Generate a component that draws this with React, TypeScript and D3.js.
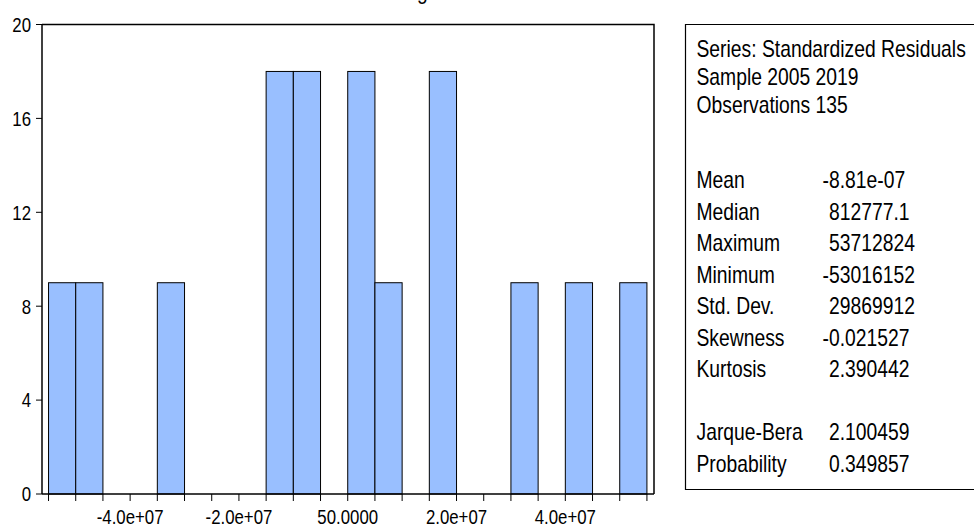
import React from "react";
import * as d3 from "d3";

const binStarts = [-55e6, -50e6, -45e6, -40e6, -35e6, -30e6, -25e6, -20e6, -15e6, -10e6, -5e6, 0, 5e6, 10e6, 15e6, 20e6, 25e6, 30e6, 35e6, 40e6, 45e6, 50e6];
const counts = [9, 9, 0, 0, 9, 0, 0, 0, 18, 18, 0, 18, 9, 0, 18, 0, 0, 9, 0, 9, 0, 9];
const binWidth = 5e6;
const yTicks = [0, 4, 8, 12, 16, 20];
const xLabelValues = [-4e7, -2e7, 0, 2e7, 4e7];
const xLabelTexts = ["-4.0e+07", "-2.0e+07", "50.0000", "2.0e+07", "4.0e+07"];
const headerLines = ["Series: Standardized Residuals", "Sample 2005 2019", "Observations 135"];
const statNames = ["Mean", "Median", "Maximum", "Minimum", "Std. Dev.", "Skewness", "Kurtosis", "", "Jarque-Bera", "Probability"];
const statValues = ["-8.81e-07", "812777.1", "53712824", "-53016152", "29869912", "-0.021527", "2.390442", "", "2.100459", "0.349857"];

const FONT = "'Liberation Sans', Arial, sans-serif";

function NText(props: { x: number; y: number; size: number; sx: number; anchor?: string; dy?: string; children: React.ReactNode }) {
  const { x, y, size, sx, anchor, dy, children } = props;
  return (
    <text transform={`translate(${x},${y}) scale(${sx},1)`} fontSize={size} textAnchor={anchor || "start"} dy={dy} fill="#000">
      {children}
    </text>
  );
}

export default function App() {
  const W = 974, H = 527;
  const left = 42, right = 654, top = 24.5, bottom = 494;
  const x = d3.scaleLinear().domain([-5.62e7, 5.63e7]).range([left, right]);
  const y = d3.scaleLinear().domain([0, 20]).range([bottom, top]);
  const edges = binStarts.concat([binStarts[binStarts.length - 1] + binWidth]);

  const boxX = 685.5, boxTop = 24.5, boxBottom = 489.5;
  const headerY = (i: number) => 57 + i * 28;
  const statY = (i: number) => 188 + i * 31.55;
  const labX = 696.5, valX = 829, SZ = 23, SX = 0.84;
  const minusW = 0.333 * SZ * SX;
  const AX = 20.5, AXS = 0.82;

  return (
    <svg width={W} height={H} style={{ position: "absolute", left: 0, top: 0, background: "#fff" }} fontFamily={FONT}>
      <rect x={0} y={0} width={W} height={H} fill="#fff" />
      <NText x={417} y={-1} size={SZ} sx={SX}>g</NText>
      {/* bars */}
      {binStarts.map((b, i) =>
        counts[i] > 0 ? (
          <rect key={i} x={x(b)} y={y(counts[i])} width={x(b + binWidth) - x(b)} height={y(0) - y(counts[i])}
            fill="#99BFFF" stroke="#000" strokeWidth={1} />
        ) : null
      )}
      {/* frame */}
      <path d={`M${left},${top}H${right}V${bottom}`} fill="none" stroke="#000" strokeWidth={1.5} />
      <line x1={left} y1={top} x2={left} y2={bottom} stroke="#000" strokeWidth={1.5} />
      <line x1={left} y1={bottom} x2={right} y2={bottom} stroke="#000" strokeWidth={1.5} />
      {/* y ticks */}
      {yTicks.map((t) => (
        <g key={t}>
          <line x1={left - 6} x2={left} y1={y(t)} y2={y(t)} stroke="#000" />
          <NText x={31} y={y(t)} dy="0.36em" anchor="end" size={AX} sx={AXS}>{t}</NText>
        </g>
      ))}
      {/* x ticks */}
      {edges.map((e, i) => (
        <line key={i} x1={x(e)} x2={x(e)} y1={bottom} y2={bottom + 7} stroke="#000" />
      ))}
      {xLabelValues.map((v, i) => (
        <NText key={i} x={x(v)} y={524} anchor="middle" size={AX} sx={AXS}>{xLabelTexts[i]}</NText>
      ))}
      {/* stats box */}
      <path d={`M${W + 5},${boxTop}H${boxX}V${boxBottom}H${W + 5}`} fill="none" stroke="#000" strokeWidth={1.2} />
      {headerLines.map((s, i) => (
        <NText key={i} x={labX} y={headerY(i)} size={SZ} sx={SX}>{s}</NText>
      ))}
      {statNames.map((s, i) =>
        s ? (
          <g key={i}>
            <NText x={labX} y={statY(i)} size={SZ} sx={SX}>{s}</NText>
            <NText x={statValues[i].startsWith("-") ? valX - minusW : valX} y={statY(i)} size={SZ} sx={SX}>{statValues[i]}</NText>
          </g>
        ) : null
      )}
    </svg>
  );
}
